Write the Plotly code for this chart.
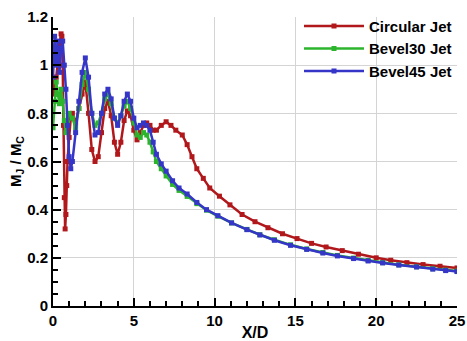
import plotly.graph_objects as go

# --- data ---
circ_x = [0, 0.1, 0.2, 0.3, 0.4, 0.5, 0.55, 0.6, 0.65, 0.7, 0.75, 0.8, 0.85, 0.9, 1.0, 1.1,
          1.2, 1.4, 1.6, 1.8, 2.0, 2.2, 2.4, 2.6, 2.8, 3.0, 3.2, 3.4, 3.6, 3.8, 4.0, 4.2,
          4.4, 4.6, 4.8, 5.0, 5.2, 5.4, 5.6, 5.8, 6.0, 6.2, 6.4, 6.7, 7.0, 7.3, 7.6, 8.0,
          8.3, 8.6, 8.9, 9.3, 9.7, 10.3, 10.95, 11.7, 12.5, 13.3, 14.2, 15.1, 16.0, 16.9,
          17.9, 18.9, 20.0, 20.9, 21.9, 22.9, 23.95, 25.0]
circ_y = [0.93, 0.88, 0.95, 1.02, 1.08, 1.13, 1.12, 1.0, 0.75, 0.45, 0.32, 0.38, 0.5, 0.6, 0.7, 0.78,
          0.8, 0.76, 0.82, 0.88, 0.93, 0.8, 0.65, 0.6, 0.62, 0.72, 0.82, 0.85, 0.79, 0.68, 0.63, 0.68,
          0.77, 0.81, 0.79, 0.73, 0.69, 0.72, 0.75, 0.76, 0.75, 0.73, 0.73, 0.75, 0.765, 0.75, 0.73, 0.71,
          0.67, 0.62, 0.57, 0.53, 0.49, 0.456, 0.42, 0.38, 0.35, 0.325, 0.30, 0.28, 0.26, 0.245,
          0.23, 0.215, 0.20, 0.19, 0.18, 0.172, 0.165, 0.158]

b30_x = [0, 0.1, 0.2, 0.3, 0.4, 0.5, 0.6, 0.7, 0.8, 0.9, 1.0, 1.2, 1.4, 1.6, 1.8, 2.0, 2.2,
         2.4, 2.6, 2.8, 3.0, 3.2, 3.4, 3.6, 3.8, 4.0, 4.2, 4.4, 4.6, 4.8, 5.0, 5.2, 5.4, 5.6,
         5.8, 6.0, 6.2, 6.4, 6.7, 7.0, 7.4, 7.8, 8.3, 8.9, 9.5, 10.2, 11.05, 12.0, 12.8, 13.7,
         14.7, 15.7, 16.7, 17.6, 18.6, 19.5, 20.4, 21.4, 22.5, 23.5, 24.3, 25.0]
b30_y = [0.74, 0.85, 0.93, 0.88, 0.84, 0.9, 0.85, 0.77, 0.72, 0.76, 0.8, 0.78, 0.74, 0.82, 0.92, 0.97, 0.9,
         0.8, 0.75, 0.76, 0.8, 0.86, 0.88, 0.84, 0.78, 0.76, 0.79, 0.83, 0.85, 0.82, 0.76, 0.71, 0.7, 0.72,
         0.71, 0.68, 0.64, 0.6, 0.57, 0.54, 0.505, 0.48, 0.455, 0.425, 0.398, 0.373, 0.345, 0.318, 0.296, 0.275,
         0.254, 0.237, 0.222, 0.21, 0.199, 0.189, 0.18, 0.171, 0.163, 0.155, 0.149, 0.145]

b45_x = [0, 0.05, 0.1, 0.2, 0.3, 0.4, 0.5, 0.6, 0.7, 0.8, 0.9, 1.0, 1.1, 1.2, 1.4, 1.6, 1.8,
         2.0, 2.2, 2.4, 2.6, 2.8, 3.0, 3.2, 3.4, 3.6, 3.8, 4.0, 4.2, 4.4, 4.6, 4.8, 5.0, 5.2,
         5.4, 5.6, 5.8, 6.0, 6.2, 6.4, 6.7, 7.0, 7.4, 7.8, 8.3, 8.9, 9.5, 10.2, 11.05, 12.0,
         12.8, 13.7, 14.7, 15.7, 16.7, 17.6, 18.6, 19.5, 20.4, 21.4, 22.5, 23.5, 24.3, 25.0]
b45_y = [0.95, 1.05, 1.12, 1.0, 1.1, 0.97, 1.07, 1.1, 1.0, 0.9, 0.75, 0.62, 0.57, 0.6, 0.72, 0.85, 0.97,
         1.03, 0.95, 0.8, 0.71, 0.72, 0.8, 0.88, 0.9, 0.86, 0.78, 0.75, 0.79, 0.85, 0.88, 0.85, 0.78, 0.74,
         0.75, 0.76, 0.75, 0.73, 0.68, 0.63, 0.59, 0.56, 0.52, 0.49, 0.465, 0.43, 0.40, 0.375, 0.345, 0.317,
         0.295, 0.273, 0.252, 0.235, 0.22, 0.208, 0.197, 0.187, 0.179, 0.17, 0.162, 0.153, 0.147, 0.143]

x_ticks = [0, 5, 10, 15, 20, 25]
y_ticks = [0, 0.2, 0.4, 0.6, 0.8, 1.0, 1.2]

series = [
    ("Circular Jet", circ_x, circ_y, "#b0181c"),
    ("Bevel30 Jet", b30_x, b30_y, "#2cb42c"),
    ("Bevel45 Jet", b45_x, b45_y, "#3535c8"),
]

fig = go.Figure()
for name, xs, ys, col in series:
    fig.add_trace(
        go.Scatter(
            x=xs,
            y=ys,
            mode="lines+markers",
            name="<b>%s</b>" % name,
            line=dict(color=col, width=2.5),
            marker=dict(symbol="square", size=5, color=col),
        )
    )

font = "Liberation Sans, Arial, sans-serif"
fig.update_layout(
    width=467,
    height=341,
    margin=dict(l=53, r=10, t=11, b=35),
    plot_bgcolor="white",
    paper_bgcolor="white",
    font=dict(family=font, size=15, color="black"),
    legend=dict(
        x=1, y=1.025, xanchor="right", yanchor="top",
        bgcolor="rgba(0,0,0,0)",
        font=dict(size=15),
        tracegroupgap=0,
        itemwidth=60,
    ),
)
fig.update_xaxes(
    range=[0, 25],
    tickvals=x_ticks, ticktext=["<b>%d</b>" % v for v in x_ticks],
    ticklabeloverflow="allow",
    ticks="inside", ticklen=8, tickwidth=2, tickcolor="black",
    minor=dict(dtick=1, ticks="inside", ticklen=5, tickwidth=1.5, tickcolor="black", showgrid=False),
    showline=True, linecolor="black", linewidth=2,
    showgrid=True, gridcolor="#d4d4d4", gridwidth=1,
    zeroline=False, automargin=False,
    title=dict(text="<b>X/D</b>", standoff=0, font=dict(size=16)),
)
fig.update_yaxes(
    range=[0, 1.2],
    tickvals=y_ticks, ticktext=["<b>%g</b>" % v for v in y_ticks],
    ticklabeloverflow="allow",
    ticks="inside", ticklen=8, tickwidth=2, tickcolor="black",
    minor=dict(dtick=0.05, ticks="inside", ticklen=5, tickwidth=1.5, tickcolor="black", showgrid=False),
    showline=True, linecolor="black", linewidth=2,
    showgrid=True, gridcolor="#d4d4d4", gridwidth=1,
    zeroline=False, automargin=False,
    title=dict(text="<b>M<sub>J</sub> / M<sub>C</sub></b>", standoff=2, font=dict(size=15)),
)

# drop the default body margin so the figure sits at the window's corner
fig.write_html(
    "out.html",
    config={"displayModeBar": False},
    post_script="document.body.style.margin='0';",
)
